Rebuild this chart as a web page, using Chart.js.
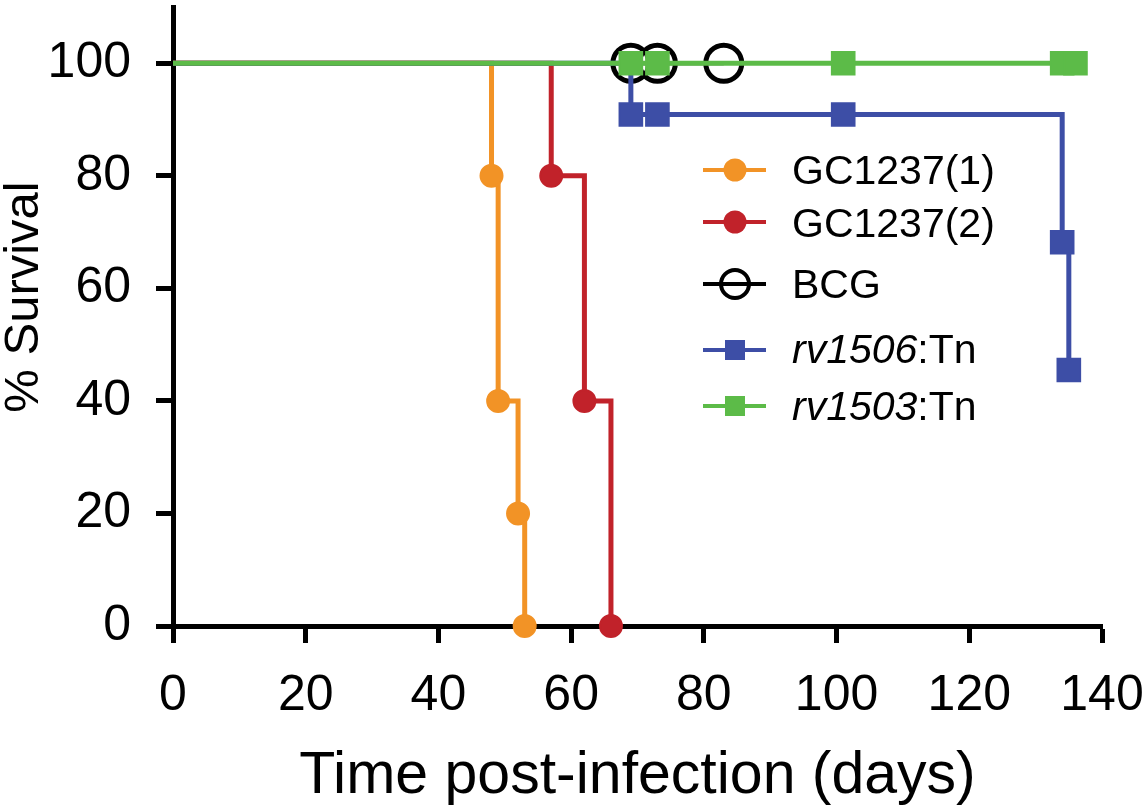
<!DOCTYPE html>
<html>
<head>
<meta charset="utf-8">
<script src="https://cdn.jsdelivr.net/npm/chart.js@4/dist/chart.umd.min.js"></script>
<style>
  html, body { margin: 0; padding: 0; background: #fff; }
  #wrap { position: relative; width: 1148px; height: 809px; }
</style>
</head>
<body>
<div id="wrap"><canvas id="c"></canvas></div>
<script>
// ---- data ----
const gc1Days = [0, 48, 49, 52, 53];
const gc1Surv = [100, 80, 40, 20, 0];
const gc2Days = [0, 57, 62, 66];
const gc2Surv = [100, 80, 40, 0];
const bcgDays = [0, 69, 73, 83];
const bcgSurv = [100, 100, 100, 100];
const rv1506Days = [0, 69, 73, 101, 134, 135];
const rv1506Surv = [100, 90.9, 90.9, 90.9, 68.2, 45.5];
const rv1503Days = [0, 69, 73, 101, 134, 136];
const rv1503Surv = [100, 100, 100, 100, 100, 100];

const xTicks = [0, 20, 40, 60, 80, 100, 120, 140];
const yTicks = [0, 20, 40, 60, 80, 100];

const legendLabels = [
  { italic: '', normal: 'GC1237(1)' },
  { italic: '', normal: 'GC1237(2)' },
  { italic: '', normal: 'BCG' },
  { italic: 'rv1506', normal: ':Tn' },
  { italic: 'rv1503', normal: ':Tn' }
];
const xTitle = 'Time post-infection (days)';
const yTitle = '% Survival';

// ---- styles ----
const FONT = "'Liberation Sans', Arial, Helvetica, sans-serif";
const C_ORANGE = '#F29326';
const C_RED = '#C1222A';
const C_BLUE = '#3D4EA6';
const C_GREEN = '#5CBB48';
const C_BLACK = '#000000';

function pts(xs, ys) { return xs.map((x, i) => ({ x: x, y: ys[i] })); }
function hideFirst(r) { return ctx => ctx.dataIndex === 0 ? 0 : r; }

const datasets = [
  { label: 'GC1237(1)', data: pts(gc1Days, gc1Surv), borderColor: C_ORANGE, backgroundColor: C_ORANGE,
    pointStyle: 'circle', pointRadius: hideFirst(11), pointBorderWidth: 2, order: 3, borderWidth: 5 },
  { label: 'GC1237(2)', data: pts(gc2Days, gc2Surv), borderColor: C_RED, backgroundColor: C_RED,
    pointStyle: 'circle', pointRadius: hideFirst(11), pointBorderWidth: 2, order: 2, borderWidth: 5 },
  { label: 'BCG', data: pts(bcgDays, bcgSurv), borderColor: C_BLACK, backgroundColor: 'rgba(0,0,0,0)',
    pointStyle: 'circle', pointRadius: hideFirst(18), pointBorderWidth: 5, order: 4, borderWidth: 4 },
  { label: 'rv1506:Tn', data: pts(rv1506Days, rv1506Surv), borderColor: C_BLUE, backgroundColor: C_BLUE,
    pointStyle: 'rect', pointRadius: hideFirst(16), pointBorderWidth: 2, order: 1, borderWidth: 5 },
  { label: 'rv1503:Tn', data: pts(rv1503Days, rv1503Surv), borderColor: C_GREEN, backgroundColor: C_GREEN,
    pointStyle: 'rect', pointRadius: hideFirst(16), pointBorderWidth: 2, order: 0, borderWidth: 5 }
];
datasets.forEach(d => {
  d.stepped = 'before';
  d.fill = false;
  d.clip = false;
  d.pointBackgroundColor = d.backgroundColor;
  d.pointBorderColor = d.borderColor;
  d.pointHoverRadius = d.pointRadius;
});

// custom legend + axis titles (mixed italic text)
const annotPlugin = {
  id: 'annot',
  afterDraw(chart) {
    const ctx = chart.ctx;
    const xs = chart.scales.x;
    ctx.save();
    ctx.fillStyle = '#000';
    // x title
    ctx.font = '59px ' + FONT;
    ctx.textAlign = 'center';
    ctx.textBaseline = 'alphabetic';
    ctx.fillText(xTitle, (xs.left + xs.right) / 2, 793);
    // y title
    ctx.save();
    ctx.translate(38, 297);
    ctx.rotate(-Math.PI / 2);
    ctx.font = '49px ' + FONT;
    ctx.fillText(yTitle, 0, 0);
    ctx.restore();

    // legend
    const rowsY = [170, 222, 284, 350, 406];
    const baseY = [184, 237, 298, 363, 420];
    const lx0 = 703, lx1 = 766, mx = 735, tx = 792;
    legendLabels.forEach((lab, i) => {
      const ds = chart.data.datasets[i];
      const y = rowsY[i];
      ctx.strokeStyle = ds.borderColor;
      ctx.lineWidth = 4;
      ctx.beginPath();
      ctx.moveTo(lx0, y); ctx.lineTo(lx1, y);
      ctx.stroke();
      ctx.fillStyle = ds.borderColor;
      if (ds.pointStyle === 'rect') {
        ctx.fillRect(mx - 10, y - 10, 20, 20);
      } else if (ds.label === 'BCG') {
        ctx.lineWidth = 4;
        ctx.beginPath();
        ctx.arc(mx, y, 14, 0, Math.PI * 2);
        ctx.stroke();
      } else {
        ctx.beginPath();
        ctx.arc(mx, y, 11.5, 0, Math.PI * 2);
        ctx.fill();
      }
      ctx.fillStyle = '#000';
      ctx.textAlign = 'left';
      ctx.textBaseline = 'alphabetic';
      let x = tx;
      if (lab.italic) {
        ctx.font = 'italic 41px ' + FONT;
        ctx.fillText(lab.italic, x, baseY[i]);
        x += ctx.measureText(lab.italic).width;
      }
      ctx.font = '41px ' + FONT;
      ctx.fillText(lab.normal, x, baseY[i]);
    });
    ctx.restore();
  }
};

function noPad(s) { s.paddingLeft = 0; s.paddingRight = 0; s.paddingTop = 0; s.paddingBottom = 0; }

new Chart(document.getElementById('c'), {
  type: 'line',
  data: { datasets: datasets },
  plugins: [annotPlugin],
  options: {
    responsive: true,
    maintainAspectRatio: false,
    animation: false,
    events: [],
    layout: { autoPadding: false, padding: { top: 7, right: 46, left: 0, bottom: 0 } },
    plugins: { legend: { display: false }, tooltip: { enabled: false }, title: { display: false } },
    scales: {
      x: {
        type: 'linear', min: 0, max: 140,
        afterBuildTicks: s => { s.ticks = xTicks.map(v => ({ value: v })); },
        afterFit: s => { s.height = 183; noPad(s); },
        grid: { drawOnChartArea: false, drawTicks: true, tickLength: 17, tickWidth: 5, tickColor: '#000' },
        border: { display: true, width: 5, color: '#000' },
        ticks: { color: '#000', font: { family: FONT, size: 50 }, padding: 23, maxRotation: 0, autoSkip: false }
      },
      y: {
        type: 'linear', min: 0, max: 110,
        afterBuildTicks: s => { s.ticks = yTicks.map(v => ({ value: v })); },
        afterFit: s => { s.width = 173; noPad(s); },
        grid: { drawOnChartArea: false, drawTicks: true, tickLength: 17, tickWidth: 5, tickColor: '#000' },
        border: { display: true, width: 5, color: '#000' },
        ticks: { color: '#000', font: { family: FONT, size: 50 }, padding: 25, autoSkip: false }
      }
    }
  }
});
</script>
</body>
</html>
